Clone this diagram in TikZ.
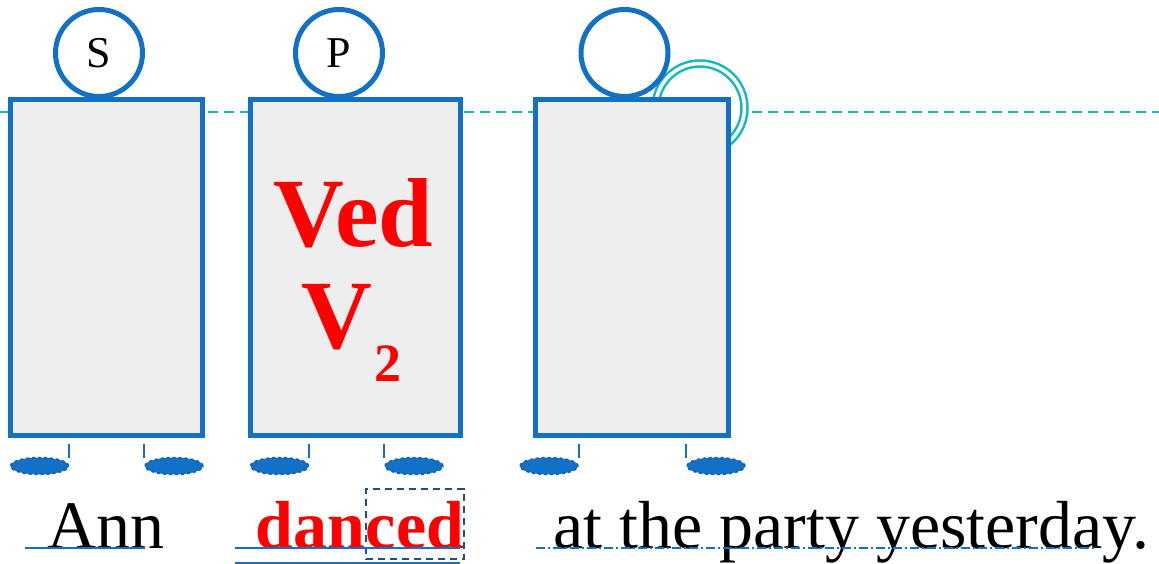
\documentclass[tikz,border=0pt]{standalone}
\usepackage{fontspec}
\setmainfont{LiberationSerif}[Extension=.ttf, UprightFont=*-Regular, BoldFont=*-Bold, ItalicFont=*-Italic, BoldItalicFont=*-BoldItalic]
\usetikzlibrary{shapes.geometric,positioning}

\begin{document}
\begin{tikzpicture}[x=1pt, y=-1pt,
  frame/.style={draw=boxblue, line width=5pt, fill=boxgray, minimum height=335pt, inner sep=0pt},
  head/.style={circle, draw=boxblue, line width=5pt, fill=white, minimum size=87pt, inner sep=0pt, font=\fontsize{44}{44}\selectfont},
  ring/.style={circle, draw=ringteal, line width=2.5pt, double=white, double distance=3.5pt, fill=white, minimum size=89pt, inner sep=0pt},
  foot/.style={ellipse, fill=boxblue, draw=boxblue!85!black, dashed, line width=1.5pt, minimum width=58pt, minimum height=17pt, inner sep=0pt},
  tick/.style={draw=boxblue, line width=1.8pt},
  guide/.style={draw=ringteal, line width=2pt, dash pattern=on 10pt off 6pt},
  word/.style={anchor=base west, inner sep=0pt, font=\fontsize{68}{80}\selectfont},
  redword/.style={word, text=red, font=\fontsize{68}{80}\selectfont\bfseries},
  big/.style={anchor=base, inner sep=0pt, text=red, font=\fontsize{98}{110}\selectfont\bfseries},
  uline/.style={draw=boxblue, line width=2pt}]
  \useasboundingbox (0,0) rectangle (1159,564);

  \definecolor{boxblue}{RGB}{18,112,199}
  \definecolor{boxgray}{RGB}{238,238,238}
  \definecolor{ringteal}{RGB}{20,184,192}
  \definecolor{cedblue}{RGB}{31,78,140}

  % guide line behind everything
  \draw[guide] (0,112) -- (1159,112);
  \node[ring] (ring) at (700,108) {};

  \foreach \n/\x/\w in {
    1/106/192,
    2/355/210,
    3/631.5/193}{
      \node[frame, minimum width=\w pt] (box\n) at (\x,267.5) {};
    }

  \foreach \n/\x/\t in {
    1/99/S,
    2/339/P,
    3/624.5/{}}{
      \node[head] (head\n) at (\x,53) {\t};
    }

  \node[big] (ved) at (353.5,247) {Ved};
  \node[big] (vee) at (337,348) {V};
  \node[anchor=base west, inner sep=0pt, text=red, font=\fontsize{54}{54}\selectfont\bfseries] (two) at ([xshift=2pt, yshift=-33pt]vee.base east) {2};

  \foreach \n/\x in {1/39.5, 2/174, 3/279.5, 4/414, 5/549, 6/716}
    \node[foot] (foot\n) at (\x,466) {};

  % ticks from box to feet
  \foreach \f/\a/\b in {1/east/1, 2/west/1, 3/east/2, 4/west/2, 5/east/3, 6/west/3}
    \draw[tick] ([yshift=-6.5pt]box\b.south -| foot\f.\a) -- ([yshift=8pt]foot\f.\a);

  \node[word] (ann) at (47,548) {Ann};
  \node[redword] (dan) at (255,548) {dan};
  \node[redword, draw=cedblue, line width=1.8pt, dash pattern=on 7pt off 5pt, text height=59pt, text depth=11pt] (ced) at (dan.base east) {ced};
  \node[word] (rest) at (553,548) {at the party yesterday.};

  \draw[uline] (25,548) -- (145,548);
  \draw[uline] (235,548) -- (460,548);
  \draw[uline] (235,563) -- (460,563);
  \draw[uline, dash pattern=on 9pt off 3pt on 2pt off 3pt] (536,548) -- (1097,548);
\end{tikzpicture}
\end{document}
